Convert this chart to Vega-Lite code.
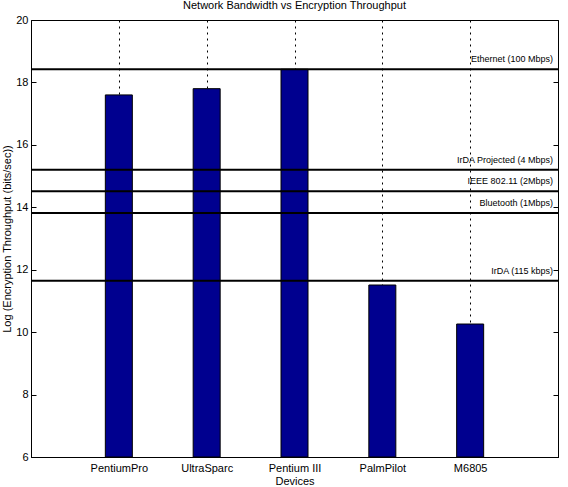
{
  "$schema": "https://vega.github.io/schema/vega-lite/v6.json",
  "width": 527,
  "height": 437,
  "autosize": {"type": "none"},
  "padding": {"left": 31, "top": 20, "right": 10, "bottom": 30},
  "background": "white",
  "config": {
    "font": "Liberation Sans",
    "view": {"stroke": "black", "strokeWidth": 1},
    "axis": {"domainColor": "black", "tickColor": "black", "labelColor": "black", "titleColor": "black", "labelFont": "Liberation Sans", "titleFont": "Liberation Sans", "labelFontSize": 11, "titleFontSize": 11, "titleFontWeight": "normal"}
  },
  "title": {"text": "Network Bandwidth vs Encryption Throughput", "fontSize": 11, "fontWeight": "normal", "font": "Liberation Sans", "offset": 3, "color": "black"},
  "datasets": {
    "devices": [
      {"device": "PentiumPro", "throughput": 17.6},
      {"device": "UltraSparc", "throughput": 17.8},
      {"device": "Pentium III", "throughput": 18.42},
      {"device": "PalmPilot", "throughput": 11.51},
      {"device": "M6805", "throughput": 10.26}
    ],
    "networks": [
      {"network": "Ethernet (100 Mbps)", "bandwidth": 18.42},
      {"network": "IrDA Projected (4 Mbps)", "bandwidth": 15.2},
      {"network": "IEEE 802.11 (2Mbps)", "bandwidth": 14.51},
      {"network": "Bluetooth (1Mbps)", "bandwidth": 13.82},
      {"network": "IrDA  (115 kbps)", "bandwidth": 11.65}
    ]
  },
  "resolve": {"axis": {"y": "independent", "x": "independent"}},
  "layer": [
    {
      "data": {"name": "devices"},
      "mark": {"type": "bar", "width": 27, "color": "#00008F", "stroke": "black", "strokeWidth": 1},
      "encoding": {
        "x": {"field": "device", "type": "nominal", "sort": null,
              "scale": {"type": "point", "padding": 1},
              "axis": {"title": "Devices", "labelAngle": 0, "ticks": false, "labelPadding": 5, "titlePadding": 2,
                       "grid": true, "gridColor": "black", "gridDash": [2, 4], "gridWidth": 1, "gridOpacity": 1}},
        "y": {"field": "throughput", "type": "quantitative",
              "scale": {"domain": [6, 20], "zero": false, "nice": false},
              "axis": {"title": "Log (Encryption Throughput (bits/sec))", "values": [6, 8, 10, 12, 14, 16, 18, 20],
                       "grid": false, "tickSize": -5, "labelPadding": 8, "titlePadding": 3}},
        "y2": {"datum": 6}
      }
    },
    {
      "data": {"name": "networks"},
      "mark": {"type": "rule", "color": "black", "strokeWidth": 2},
      "encoding": {
        "y": {"field": "bandwidth", "type": "quantitative",
              "axis": {"orient": "right", "title": null, "labels": false, "values": [6, 8, 10, 12, 14, 16, 18, 20],
                       "grid": false, "tickSize": -5}}
      }
    },
    {
      "data": {"name": "networks"},
      "mark": {"type": "text", "align": "right", "baseline": "bottom", "dx": -5, "dy": -5, "fontSize": 9, "font": "Liberation Sans", "color": "black"},
      "encoding": {
        "x": {"value": "width"},
        "y": {"field": "bandwidth", "type": "quantitative", "axis": null},
        "text": {"field": "network"}
      }
    }
  ]
}
